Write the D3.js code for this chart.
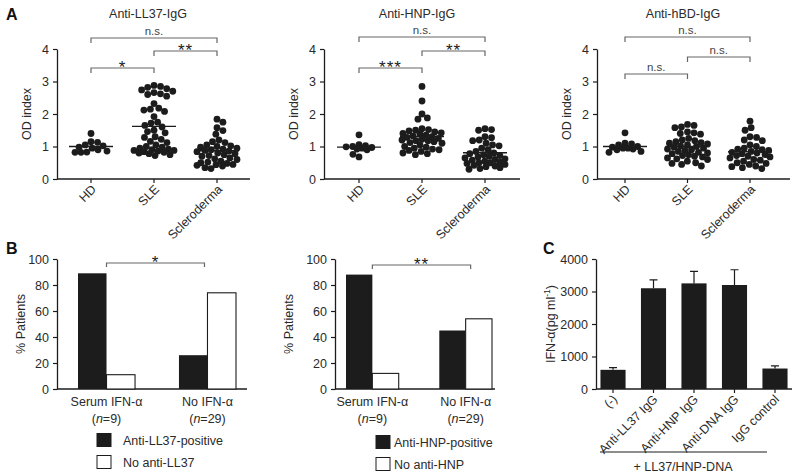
<!DOCTYPE html>
<html><head><meta charset="utf-8">
<script src="https://cdn.jsdelivr.net/npm/d3@7"></script>
<style>
body{margin:0;background:#fff}
svg{display:block}
text{font-family:"Liberation Sans",Arial,Helvetica,sans-serif;}
</style>
</head><body>
<svg id="fig" width="800" height="476"></svg>
<script>
// ---------------- DATA ----------------
const scatterGroups = ["HD", "SLE", "Scleroderma"];
const odTicks = [0, 1, 2, 3, 4];

const ll37HD  = [1.40, 1.15, 1.13, 1.05, 1.02, 0.98, 0.95, 0.90, 0.86, 0.83, 0.82, 0.82];
const ll37SLE = [2.88, 2.85, 2.82, 2.78, 2.74, 2.70, 2.66, 2.62, 2.60, 2.55, 2.32, 2.18, 2.15, 2.12, 2.08,
                 1.92, 1.75, 1.72, 1.65, 1.60, 1.50, 1.46, 1.42, 1.30, 1.28, 1.22, 1.16, 1.12, 1.05, 1.00,
                 0.98, 0.95, 0.92, 0.90, 0.88, 0.86, 0.84, 0.82, 0.80, 0.78, 0.75, 0.72, 0.88];
const ll37Scl = [1.84, 1.75, 1.58, 1.49, 1.38, 1.20, 1.15, 1.12, 1.05, 1.02, 1.00, 0.98, 0.95, 0.92, 0.90,
                 0.88, 0.86, 0.84, 0.80, 0.78, 0.75, 0.72, 0.70, 0.65, 0.62, 0.60, 0.55, 0.52, 0.50, 0.48,
                 0.45, 0.44, 0.42, 0.40, 0.35, 0.32];
const hnpHD   = [1.36, 1.06, 1.03, 1.00, 0.99, 0.97, 0.95, 0.92, 0.90, 0.76, 0.68];
const hnpSLE  = [2.85, 2.40, 2.00, 1.88, 1.84, 1.55, 1.52, 1.50, 1.48, 1.45, 1.42, 1.40, 1.38, 1.35, 1.32,
                 1.30, 1.28, 1.25, 1.22, 1.20, 1.18, 1.15, 1.12, 1.10, 1.05, 1.00, 0.98, 0.95, 0.92, 0.90,
                 0.88, 0.85, 0.80, 0.78, 0.75, 1.18];
const hnpScl  = [1.55, 1.52, 1.50, 1.30, 1.27, 1.20, 1.18, 1.10, 1.05, 1.02, 0.95, 0.90, 0.85, 0.80, 0.78,
                 0.75, 0.72, 0.70, 0.68, 0.65, 0.62, 0.60, 0.58, 0.55, 0.52, 0.50, 0.48, 0.45, 0.42, 0.40,
                 0.38, 0.35, 0.32, 0.30, 0.50];
const hbdHD   = [1.42, 1.10, 1.08, 1.05, 1.00, 0.98, 0.95, 0.95, 0.92, 0.90, 0.85, 0.82];
const hbdSLE  = [1.68, 1.65, 1.60, 1.58, 1.45, 1.42, 1.40, 1.38, 1.25, 1.20, 1.18, 1.15, 1.12, 1.10, 1.08,
                 1.05, 1.02, 1.00, 0.98, 0.95, 0.92, 0.90, 0.88, 0.85, 0.82, 0.80, 0.78, 0.75, 0.72, 0.70,
                 0.68, 0.65, 0.62, 0.60, 0.55, 0.50, 0.48, 0.45, 0.40];
const hbdScl  = [1.78, 1.58, 1.50, 1.30, 1.28, 1.20, 1.18, 1.05, 1.00, 0.95, 0.92, 0.90, 0.88, 0.85, 0.82,
                 0.80, 0.78, 0.75, 0.72, 0.70, 0.68, 0.65, 0.60, 0.58, 0.55, 0.50, 0.48, 0.45, 0.40, 0.38,
                 0.35, 0.32];
const medLL37 = [1.00, 1.62, 0.87];
const medHNP  = [0.98, 1.31, 0.81];
const medHBD  = [1.00, 1.00, 0.84];
const sigLL37 = [["HD", "Scleroderma", "n.s."], ["SLE", "Scleroderma", "**"], ["HD", "SLE", "*"]];
const sigHNP  = [["HD", "Scleroderma", "n.s."], ["SLE", "Scleroderma", "**"], ["HD", "SLE", "***"]];
const sigHBD  = [["HD", "Scleroderma", "n.s."], ["SLE", "Scleroderma", "n.s."], ["HD", "SLE", "n.s."]];

const bGroups = ["Serum IFN-α", "No IFN-α"];
const bN = ["9", "29"];
const pctTicks = [0, 20, 40, 60, 80, 100];
const ll37Pos = [89, 26];
const ll37Neg = [11, 74];
const hnpPos  = [88, 45];
const hnpNeg  = [12, 54];
const legendLL37 = ["Anti-LL37-positive", "No anti-LL37"];
const legendHNP  = ["Anti-HNP-positive", "No anti-HNP"];

const cCats = ["(-)", "Anti-LL37 IgG", "Anti-HNP IgG", "Anti-DNA IgG", "IgG control"];
const cVals = [590, 3100, 3250, 3200, 630];
const cErr  = [70, 260, 370, 470, 80];
const ifnTicks = [0, 1000, 2000, 3000, 4000];

// ---------------- DRAWING ----------------
const svg = d3.select("#fig");
const ink = "#1c1c1c";
const txt = "#2a2a2a";
const grey = "#666";

function styleAxis(sel) {
  sel.selectAll("path.domain").attr("stroke", ink).attr("stroke-width", 1.3);
  sel.selectAll(".tick line").attr("stroke", ink).attr("stroke-width", 1.2);
  sel.selectAll(".tick text").attr("fill", txt).style("font-size", "12.5px")
     .style("font-family", '"Liberation Sans",Arial,sans-serif');
}

// compact swarm limited to a half-width W; overlaps allowed when crowded
function swarm(ys, d, W) {
  const order = ys.map((v, i) => i).sort((a, b) => ys[a] - ys[b]);
  const placed = [], xs = new Array(ys.length);
  for (const i of order) {
    const yi = ys[i];
    const near = placed.filter(p => Math.abs(p.y - yi) < d);
    const cands = [0];
    near.forEach(p => { const dx = Math.sqrt(d * d - (p.y - yi) ** 2); cands.push(p.x + dx, p.x - dx); });
    for (let k = -W; k <= W; k += 1) cands.push(k);
    const ok = cands.filter(c => Math.abs(c) <= W + 1e-6);
    ok.sort((a, b) => Math.abs(a) - Math.abs(b));
    const minD = c => near.reduce((m, p) => Math.min(m, Math.hypot(p.x - c, p.y - yi)), Infinity);
    let best = null;
    for (const c of ok) { if (minD(c) >= d - 1e-6) { best = c; break; } }
    if (best === null) {
      let bm = -1;
      ok.forEach(c => { const m = minD(c); if (m > bm + 1e-6) { bm = m; best = c; } });
    }
    placed.push({x: best, y: yi}); xs[i] = best;
  }
  return xs;
}

function bracket(g, x1, x2, y, leg, label, ns) {
  g.append("path").attr("d", `M${x1},${y + leg}V${y}H${x2}V${y + leg}`)
    .attr("fill", "none").attr("stroke", grey).attr("stroke-width", 1.2);
  const cx = (x1 + x2) / 2;
  if (ns) {
    g.append("text").attr("x", cx).attr("y", y - 3).attr("text-anchor", "middle")
      .attr("fill", "#444").style("font-size", "11.5px").text(label);
  } else {
    g.append("text").attr("x", cx).attr("y", y + 5).attr("text-anchor", "middle")
      .attr("fill", ink).style("font-size", "17px").style("letter-spacing", "1px").text(label);
  }
}

function scatterPanel(o) {
  const g = svg.append("g");
  const y = d3.scaleLinear().domain([0, 4]).range([179, 49]);
  const x = d3.scalePoint().domain(scatterGroups).range([o.c0, o.c2]);

  g.append("text").attr("x", o.titleX).attr("y", 18).attr("text-anchor", "middle")
    .attr("fill", txt).style("font-size", "12.5px").text(o.title);

  const ya = g.append("g").attr("transform", `translate(${o.axisX},0)`)
    .call(d3.axisLeft(y).tickValues(odTicks).tickSize(4).tickSizeOuter(0).tickPadding(4).tickFormat(d3.format("d")));
  styleAxis(ya);

  g.append("line").attr("x1", o.axisX).attr("x2", o.axisEnd).attr("y1", y(0)).attr("y2", y(0))
    .attr("stroke", ink).attr("stroke-width", 1.3);
  scatterGroups.forEach(c => {
    g.append("line").attr("x1", x(c)).attr("x2", x(c)).attr("y1", y(0)).attr("y2", y(0) + 4)
      .attr("stroke", ink).attr("stroke-width", 1.2);
    g.append("text").attr("text-anchor", "end").attr("fill", txt).style("font-size", "12.5px")
      .attr("transform", `translate(${x(c) + 6},${y(0) + 11}) rotate(-45)`).text(c);
  });

  g.append("text").attr("transform", `translate(${o.axisX - 26},${y(2)}) rotate(-90)`)
    .attr("text-anchor", "middle").attr("fill", txt).style("font-size", "12.5px").text("OD index");

  o.data.forEach((vals, gi) => {
    const cx = x(scatterGroups[gi]);
    const ys = vals.map(v => y(v));
    const xs = swarm(ys, 6.6, gi === 0 ? 16 : 20);
    g.append("g").selectAll("circle").data(vals).join("circle")
      .attr("cx", (d, i) => cx + xs[i]).attr("cy", d => y(d)).attr("r", 3.4).attr("fill", ink);
    g.append("line").attr("x1", cx - 22).attr("x2", cx + 22)
      .attr("y1", y(o.med[gi])).attr("y2", y(o.med[gi])).attr("stroke", ink).attr("stroke-width", 1.4);
  });

  o.sig.forEach((s, i) => {
    bracket(g, x(s[0]), x(s[1]), o.brY[i], 5, s[2], s[2] === "n.s.");
  });
}

scatterPanel({title: "Anti-LL37-IgG", titleX: 148, axisX: 57, axisEnd: 250, c0: 91, c2: 217,
  data: [ll37HD, ll37SLE, ll37Scl], med: medLL37, sig: sigLL37, brY: [38, 51, 68]});
scatterPanel({title: "Anti-HNP-IgG", titleX: 417, axisX: 324, axisEnd: 520, c0: 359, c2: 485,
  data: [hnpHD, hnpSLE, hnpScl], med: medHNP, sig: sigHNP, brY: [37, 51, 68]});
scatterPanel({title: "Anti-hBD-IgG", titleX: 683, axisX: 597, axisEnd: 790, c0: 625, c2: 750,
  data: [hbdHD, hbdSLE, hbdScl], med: medHBD, sig: sigHBD, brY: [37, 57, 74]});

function barPanelB(o) {
  const g = svg.append("g");
  const y = d3.scaleLinear().domain([0, 100]).range([389, 259]);
  const x = d3.scaleBand().domain(bGroups).range(o.band).paddingInner(0.435).paddingOuter(0);
  const xs = d3.scaleBand().domain(["pos", "neg"]).range([0, x.bandwidth()]);

  const ya = g.append("g").attr("transform", `translate(${o.axisX},0)`)
    .call(d3.axisLeft(y).tickValues(pctTicks).tickSize(4).tickSizeOuter(0).tickPadding(4));
  styleAxis(ya);
  g.append("line").attr("x1", o.axisX).attr("x2", o.axisEnd).attr("y1", y(0)).attr("y2", y(0))
    .attr("stroke", ink).attr("stroke-width", 1.3);

  g.append("text").attr("transform", `translate(${o.yLabX},${y(50)}) rotate(-90)`)
    .attr("text-anchor", "middle").attr("fill", txt).style("font-size", "12.5px").text("% Patients");

  bGroups.forEach((grp, i) => {
    g.append("rect").attr("x", x(grp) + xs("pos")).attr("width", xs.bandwidth())
      .attr("y", y(o.pos[i])).attr("height", y(0) - y(o.pos[i])).attr("fill", ink);
    g.append("rect").attr("x", x(grp) + xs("neg")).attr("width", xs.bandwidth())
      .attr("y", y(o.neg[i])).attr("height", y(0) - y(o.neg[i]))
      .attr("fill", "#fff").attr("stroke", ink).attr("stroke-width", 1.1);
    const cx = x(grp) + x.bandwidth() / 2;
    g.append("text").attr("x", cx).attr("y", 406).attr("text-anchor", "middle").attr("fill", txt)
      .style("font-size", "12.5px").text(grp);
    const t = g.append("text").attr("x", cx).attr("y", 423).attr("text-anchor", "middle").attr("fill", txt)
      .style("font-size", "12.5px");
    t.append("tspan").text("(");
    t.append("tspan").style("font-style", "italic").text("n");
    t.append("tspan").text("=" + bN[i] + ")");
  });

  const c1 = x(bGroups[0]) + x.bandwidth() / 2, c2 = x(bGroups[1]) + x.bandwidth() / 2;
  bracket(g, c1, c2 + o.brExt, o.brY, 4, o.sig, false);

  o.legend.forEach((lab, i) => {
    const ly = o.legY[i];
    g.append("rect").attr("x", o.legX).attr("y", ly - 6.5).attr("width", 14).attr("height", 13)
      .attr("fill", i === 0 ? ink : "#fff").attr("stroke", ink).attr("stroke-width", 1);
    g.append("text").attr("x", o.legTX).attr("y", ly + 4.5).attr("fill", txt)
      .style("font-size", "12.5px").text(lab);
  });
}

barPanelB({axisX: 57, axisEnd: 247, band: [78, 236], yLabX: 25, pos: ll37Pos, neg: ll37Neg,
  sig: "*", brY: 263, brExt: -3, legend: legendLL37, legX: 97, legTX: 123, legY: [440, 462]});
barPanelB({axisX: 335, axisEnd: 495, band: [346, 492], yLabX: 293, pos: hnpPos, neg: hnpNeg,
  sig: "**", brY: 265, brExt: 5, legend: legendHNP, legX: 376, legTX: 394, legY: [442, 464]});

// Panel C
(function () {
  const g = svg.append("g");
  const y = d3.scaleLinear().domain([0, 4000]).range([389, 259]);
  const x = d3.scaleBand().domain(cCats).range([596, 792]).paddingInner(0.38).paddingOuter(0.11);
  const ya = g.append("g").attr("transform", "translate(596,0)")
    .call(d3.axisLeft(y).tickValues(ifnTicks).tickSize(4).tickSizeOuter(0).tickPadding(4).tickFormat(d3.format("d")));
  styleAxis(ya);
  g.append("line").attr("x1", 596).attr("x2", 792).attr("y1", y(0)).attr("y2", y(0))
    .attr("stroke", ink).attr("stroke-width", 1.3);

  cCats.forEach((c, i) => {
    const x0 = x(c), cx = x0 + x.bandwidth() / 2;
    g.append("path").attr("d", `M${cx},${y(cVals[i])}V${y(cVals[i] + cErr[i])}M${cx - 4},${y(cVals[i] + cErr[i])}H${cx + 4}`)
      .attr("stroke", ink).attr("stroke-width", 1.2).attr("fill", "none");
    g.append("rect").attr("x", x0).attr("width", x.bandwidth()).attr("y", y(cVals[i]))
      .attr("height", y(0) - y(cVals[i])).attr("fill", ink);
    g.append("line").attr("x1", cx).attr("x2", cx).attr("y1", y(0)).attr("y2", y(0) + 4)
      .attr("stroke", ink).attr("stroke-width", 1.2);
    g.append("text").attr("text-anchor", "end").attr("fill", txt).style("font-size", "12.5px")
      .attr("transform", `translate(${cx + 5},${y(0) + 11}) rotate(-45)`).text(c);
  });

  const yl = g.append("text").attr("transform", `translate(555,${y(2000)}) rotate(-90)`)
    .attr("text-anchor", "middle").attr("fill", txt).style("font-size", "12.5px");
  yl.append("tspan").text("IFN-α(pg ml");
  yl.append("tspan").attr("dy", -5).style("font-size", "8.5px").text("-1");
  yl.append("tspan").attr("dy", 5).text(")");

  g.append("line").attr("x1", 600).attr("x2", 767).attr("y1", 452).attr("y2", 452)
    .attr("stroke", ink).attr("stroke-width", 1.2);
  g.append("text").attr("x", 683).attr("y", 471).attr("text-anchor", "middle").attr("fill", txt)
    .style("font-size", "12.5px").text("+ LL37/HNP-DNA");
})();

// Panel letters
[["A", 6, 20], ["B", 6, 254], ["C", 543, 254]].forEach(([l, px, py]) => {
  svg.append("text").attr("x", px).attr("y", py).attr("fill", "#111")
    .style("font-size", "16px").style("font-weight", "bold").text(l);
});
</script>
</body></html>
